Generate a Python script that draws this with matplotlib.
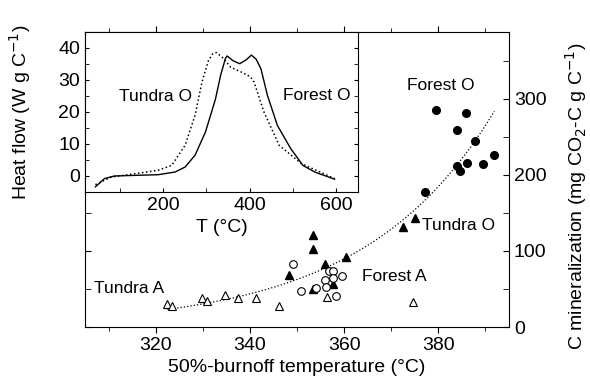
import matplotlib.pyplot as plt
from matplotlib.ticker import MultipleLocator
import numpy as np

plt.rcParams['font.family'] = ['Liberation Sans', 'DejaVu Sans']
plt.rcParams['font.size'] = 14

# main panel: 50%-burnoff temperature vs C mineralization
forest_o_t = [379.5, 385.8, 383.9, 387.8, 391.9, 383.9, 386.1, 384.6, 389.4, 377.1]
forest_o_c = [285, 281, 259, 244, 226, 212, 216, 205, 215, 177]

tundra_o_t = [375.1, 372.5, 353.3, 353.3, 356.0, 360.4, 348.4, 357.6, 353.3]
tundra_o_c = [143, 132, 121, 103, 83, 92, 68, 56, 50]

tundra_a_t = [322.5, 323.5, 329.9, 331.0, 334.8, 337.4, 341.4, 346.1, 356.3, 374.7]
tundra_a_c = [30, 28, 38.5, 34, 42, 37.7, 38.5, 28, 40, 32.5]

forest_a_t = [349.1, 350.9, 354.0, 356.7, 357.7, 356.0, 357.7, 359.6, 356.2, 358.3]
forest_a_c = [83, 48, 51, 73, 74, 62, 65, 67.5, 52, 41]

# inset: heat flow curves
forest_curve_t = [44, 65, 88, 135, 189, 228, 251, 274, 298, 321, 333, 344, 348,
                  362, 377, 392, 404, 415, 426, 441, 464, 495, 523, 550, 596]
forest_curve_h = [-3.4, -0.8, 0.0, 0.2, 0.4, 1.25, 2.8, 6.5, 13.75, 24, 31.5, 36.7, 37.5,
                  36.0, 35.1, 36.3, 37.8, 36.5, 33.5, 25.2, 15.8, 8.5, 3.3, 1.25, -1.0]
tundra_curve_t = [44, 81, 135, 189, 220, 251, 274, 290, 305, 315, 323, 340, 356,
                  379, 402, 410, 433, 468, 519, 596]
tundra_curve_h = [-2.7, -0.3, 0.7, 1.8, 3.3, 9.6, 19, 29.4, 36.1, 38.2, 38.6, 36.7, 34.0,
                  32.6, 31.0, 29.4, 20, 9.6, 3.9, -0.8]

fig = plt.figure(figsize=(5.9, 3.9), dpi=100)
ax = fig.add_axes([85/590, 63/390, 424/590, 295/390])

ms = 5.5
ax.plot(forest_o_t, forest_o_c, 'o', color='black', ms=ms, zorder=3)
ax.plot(tundra_o_t, tundra_o_c, '^', color='black', ms=ms, zorder=3)
ax.plot(tundra_a_t, tundra_a_c, '^', mfc='white', mec='black', mew=0.8, ms=ms, zorder=3)
ax.plot(forest_a_t, forest_a_c, 'o', mfc='white', mec='black', mew=0.8, ms=ms, zorder=3)

# exponential fit through all samples
all_t = np.array(forest_o_t + tundra_o_t + tundra_a_t + forest_a_t)
all_c = np.array(forest_o_c + tundra_o_c + tundra_a_c + forest_a_c)
b, ln_a = np.polyfit(all_t, np.log(all_c), 1, w=np.sqrt(all_c))
fit_t = np.linspace(all_t.min(), all_t.max(), 200)
ax.plot(fit_t, np.exp(ln_a + b * fit_t), ':', color='black', lw=0.9, zorder=2)

ax.set_xlim(305, 395)
ax.set_ylim(0, 388)
ax.xaxis.set_major_locator(MultipleLocator(20))
ax.xaxis.set_minor_locator(MultipleLocator(10))
ax.yaxis.set_major_locator(MultipleLocator(100))
ax.yaxis.set_minor_locator(MultipleLocator(50))
ax.tick_params(axis='x', which='both', direction='out', top=True, length=4)
ax.tick_params(axis='x', which='minor', length=3)
ax.tick_params(axis='y', which='both', direction='in', left=True, right=True,
               labelleft=False, labelright=True, length=4)
ax.set_xlabel('50%-burnoff temperature (°C)', labelpad=3)

fs = 12.5
ax.text(380.5, 318, 'Forest O', ha='center', va='center', fontsize=fs)
ax.text(376.6, 134, 'Tundra O', ha='left', va='center', fontsize=fs)
ax.text(363.8, 66, 'Forest A', ha='left', va='center', fontsize=fs)
ax.text(307, 50, 'Tundra A', ha='left', va='center', fontsize=fs)

fig.text(576/590, 1 - 196/390, 'C mineralization (mg CO$_2$-C g C$^{-1}$)',
         rotation=90, ha='center', va='center')
fig.text(20/590, 1 - 112/390, 'Heat flow (W g C$^{-1}$)',
         rotation=90, ha='center', va='center')

# inset
ins = fig.add_axes([85/590, 198/390, 273/590, 160/390])
ins.plot(forest_curve_t, forest_curve_h, '-', color='black', lw=1.0)
ins.plot(tundra_curve_t, tundra_curve_h, ':', color='black', lw=1.1)
ins.set_xlim(20, 650)
ins.set_ylim(-5, 45)
ins.xaxis.set_major_locator(MultipleLocator(200))
ins.xaxis.set_minor_locator(MultipleLocator(100))
ins.yaxis.set_major_locator(MultipleLocator(10))
ins.yaxis.set_minor_locator(MultipleLocator(5))
ins.tick_params(which='both', direction='in', right=True, top=False, length=3)
ins.set_xlabel('T (°C)', labelpad=4)
ins.text(99, 24.7, 'Tundra O', ha='left', va='center', fontsize=fs)
ins.text(476, 25.3, 'Forest O', ha='left', va='center', fontsize=fs)

fig.savefig('out.png', dpi=100)
